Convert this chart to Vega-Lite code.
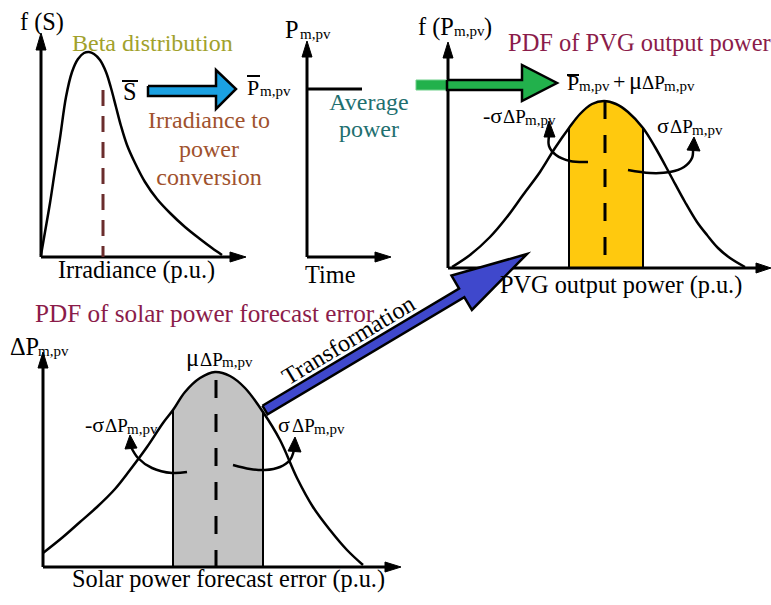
{
  "$schema": "https://vega.github.io/schema/vega-lite/v6.json",
  "width": 771,
  "height": 605,
  "autosize": {"type": "none"},
  "padding": 0,
  "background": "white",
  "config": {"view": {"stroke": null}, "text": {"font": "Liberation Serif"}},
  "datasets": {
    "curves": [
      {"c":"beta","i":0,"x":41,"y":255},{"c":"beta","i":1,"x":45,"y":232},{"c":"beta","i":2,"x":50,"y":203},{"c":"beta","i":3,"x":55,"y":170},{"c":"beta","i":4,"x":60,"y":138},{"c":"beta","i":5,"x":66,"y":97},{"c":"beta","i":6,"x":72,"y":72},{"c":"beta","i":7,"x":78,"y":59},{"c":"beta","i":8,"x":84,"y":53},{"c":"beta","i":9,"x":89,"y":52},{"c":"beta","i":10,"x":94,"y":54},{"c":"beta","i":11,"x":100,"y":60},{"c":"beta","i":12,"x":106,"y":72},{"c":"beta","i":13,"x":111,"y":88},{"c":"beta","i":14,"x":116,"y":107},{"c":"beta","i":15,"x":121,"y":126},{"c":"beta","i":16,"x":127,"y":145},{"c":"beta","i":17,"x":135,"y":163},{"c":"beta","i":18,"x":145,"y":182},{"c":"beta","i":19,"x":157,"y":199},{"c":"beta","i":20,"x":170,"y":213},{"c":"beta","i":21,"x":185,"y":227},{"c":"beta","i":22,"x":200,"y":239},{"c":"beta","i":23,"x":212,"y":248},{"c":"beta","i":24,"x":222,"y":255},
      {"c":"pvg","i":0,"x":452,"y":267},{"c":"pvg","i":1,"x":470,"y":255},{"c":"pvg","i":2,"x":490,"y":237},{"c":"pvg","i":3,"x":507,"y":217},{"c":"pvg","i":4,"x":523,"y":195},{"c":"pvg","i":5,"x":540,"y":172},{"c":"pvg","i":6,"x":555,"y":148},{"c":"pvg","i":7,"x":569,"y":128},{"c":"pvg","i":8,"x":580,"y":114},{"c":"pvg","i":9,"x":592,"y":104},{"c":"pvg","i":10,"x":604,"y":101},{"c":"pvg","i":11,"x":616,"y":104},{"c":"pvg","i":12,"x":628,"y":112},{"c":"pvg","i":13,"x":643,"y":128},{"c":"pvg","i":14,"x":655,"y":147},{"c":"pvg","i":15,"x":665,"y":165},{"c":"pvg","i":16,"x":673,"y":180},{"c":"pvg","i":17,"x":685,"y":202},{"c":"pvg","i":18,"x":697,"y":222},{"c":"pvg","i":19,"x":707,"y":235},{"c":"pvg","i":20,"x":718,"y":248},{"c":"pvg","i":21,"x":730,"y":258},{"c":"pvg","i":22,"x":745,"y":267},
      {"c":"err","i":0,"x":43,"y":553},{"c":"err","i":1,"x":63,"y":537},{"c":"err","i":2,"x":80,"y":522},{"c":"err","i":3,"x":97,"y":507},{"c":"err","i":4,"x":115,"y":489},{"c":"err","i":5,"x":130,"y":470},{"c":"err","i":6,"x":147,"y":447},{"c":"err","i":7,"x":163,"y":423},{"c":"err","i":8,"x":173,"y":410},{"c":"err","i":9,"x":185,"y":392},{"c":"err","i":10,"x":200,"y":378},{"c":"err","i":11,"x":215,"y":372},{"c":"err","i":12,"x":230,"y":376},{"c":"err","i":13,"x":245,"y":388},{"c":"err","i":14,"x":263,"y":412},{"c":"err","i":15,"x":280,"y":440},{"c":"err","i":16,"x":297,"y":478},{"c":"err","i":17,"x":313,"y":507},{"c":"err","i":18,"x":330,"y":530},{"c":"err","i":19,"x":347,"y":550},{"c":"err","i":20,"x":363,"y":565}
    ],
    "bends": [
      {"c":"pl","i":0,"x":588,"y":162},{"c":"pl","i":1,"x":570,"y":161},{"c":"pl","i":2,"x":556,"y":155},{"c":"pl","i":3,"x":549,"y":146},{"c":"pl","i":4,"x":549,"y":136},
      {"c":"pr","i":0,"x":628,"y":170},{"c":"pr","i":1,"x":650,"y":173},{"c":"pr","i":2,"x":670,"y":172},{"c":"pr","i":3,"x":684,"y":167},{"c":"pr","i":4,"x":692,"y":158},{"c":"pr","i":5,"x":693,"y":149},
      {"c":"bl","i":0,"x":187,"y":472},{"c":"bl","i":1,"x":172,"y":473},{"c":"bl","i":2,"x":152,"y":468},{"c":"bl","i":3,"x":138,"y":458},{"c":"bl","i":4,"x":131,"y":447},
      {"c":"br","i":0,"x":233,"y":465},{"c":"br","i":1,"x":250,"y":469},{"c":"br","i":2,"x":265,"y":470},{"c":"br","i":3,"x":280,"y":467},{"c":"br","i":4,"x":290,"y":460},{"c":"br","i":5,"x":294,"y":450}
    ],
    "segs": [
      {"g":"axis","x":41,"y":257,"x2":41,"y2":48},{"g":"axis","x":41,"y":257,"x2":232,"y2":257},
      {"g":"axis","x":307,"y":257,"x2":307,"y2":55},{"g":"axis","x":307,"y":257,"x2":377,"y2":257},{"g":"axis","x":307,"y":89,"x2":362,"y2":89},
      {"g":"axis","x":448,"y":268,"x2":448,"y2":56},{"g":"axis","x":448,"y":268,"x2":759,"y2":268},
      {"g":"axis","x":43,"y":567,"x2":43,"y2":366},{"g":"axis","x":43,"y":567,"x2":387,"y2":567},
      {"g":"bound","x":569,"y":128,"x2":569,"y2":268},{"g":"bound","x":643,"y":128,"x2":643,"y2":268},
      {"g":"bound","x":173,"y":410,"x2":173,"y2":567},{"g":"bound","x":263,"y":412,"x2":263,"y2":567}
    ],
    "dashes": [
      {"g":"beta","x":103,"y":90,"y2":257},
      {"g":"pvg","x":605,"y":101,"y2":268},
      {"g":"err","x":216,"y":380,"y2":567}
    ],
    "bars": [
      {"x":122,"x2":138,"y":81},{"x":247,"x2":260,"y":76},{"x":567,"x2":579,"y":75}
    ],
    "polys": [
      {"g":"sky","id":"a1","i":0,"x":148,"y":86},{"g":"sky","id":"a1","i":1,"x":216,"y":86},{"g":"sky","id":"a1","i":2,"x":216,"y":70},{"g":"sky","id":"a1","i":3,"x":236,"y":89},{"g":"sky","id":"a1","i":4,"x":216,"y":109},{"g":"sky","id":"a1","i":5,"x":216,"y":96},{"g":"sky","id":"a1","i":6,"x":148,"y":96},{"g":"sky","id":"a1","i":7,"x":148,"y":86},
      {"g":"greenbar","id":"gb","i":0,"x":416,"y":80},{"g":"greenbar","id":"gb","i":1,"x":447,"y":80},{"g":"greenbar","id":"gb","i":2,"x":447,"y":90},{"g":"greenbar","id":"gb","i":3,"x":416,"y":90},{"g":"greenbar","id":"gb","i":4,"x":416,"y":80},
      {"g":"green","id":"a2","i":0,"x":447,"y":80},{"g":"green","id":"a2","i":1,"x":522,"y":80},{"g":"green","id":"a2","i":2,"x":522,"y":65},{"g":"green","id":"a2","i":3,"x":557,"y":83},{"g":"green","id":"a2","i":4,"x":522,"y":101},{"g":"green","id":"a2","i":5,"x":522,"y":90},{"g":"green","id":"a2","i":6,"x":447,"y":90},{"g":"green","id":"a2","i":7,"x":447,"y":80},
      {"g":"royal","id":"a3","i":0,"x":262.4,"y":405.7},{"g":"royal","id":"a3","i":1,"x":459.1,"y":288.5},{"g":"royal","id":"a3","i":2,"x":451.5,"y":275.6},{"g":"royal","id":"a3","i":3,"x":527,"y":254},{"g":"royal","id":"a3","i":4,"x":471.9,"y":310},{"g":"royal","id":"a3","i":5,"x":464.3,"y":297.1},{"g":"royal","id":"a3","i":6,"x":267.6,"y":414.3},{"g":"royal","id":"a3","i":7,"x":262.4,"y":405.7},
      {"g":"black","id":"t1","i":0,"x":36,"y":50},{"g":"black","id":"t1","i":1,"x":41,"y":33},{"g":"black","id":"t1","i":2,"x":46,"y":50},{"g":"black","id":"t1","i":3,"x":36,"y":50},
      {"g":"black","id":"t2","i":0,"x":230,"y":252},{"g":"black","id":"t2","i":1,"x":246,"y":257},{"g":"black","id":"t2","i":2,"x":230,"y":262},{"g":"black","id":"t2","i":3,"x":230,"y":252},
      {"g":"black","id":"t3","i":0,"x":302,"y":57},{"g":"black","id":"t3","i":1,"x":307,"y":41},{"g":"black","id":"t3","i":2,"x":312,"y":57},{"g":"black","id":"t3","i":3,"x":302,"y":57},
      {"g":"black","id":"t4","i":0,"x":375,"y":252},{"g":"black","id":"t4","i":1,"x":391,"y":257},{"g":"black","id":"t4","i":2,"x":375,"y":262},{"g":"black","id":"t4","i":3,"x":375,"y":252},
      {"g":"black","id":"t5","i":0,"x":443,"y":58},{"g":"black","id":"t5","i":1,"x":448,"y":42},{"g":"black","id":"t5","i":2,"x":453,"y":58},{"g":"black","id":"t5","i":3,"x":443,"y":58},
      {"g":"black","id":"t6","i":0,"x":756,"y":263},{"g":"black","id":"t6","i":1,"x":771,"y":268},{"g":"black","id":"t6","i":2,"x":756,"y":273},{"g":"black","id":"t6","i":3,"x":756,"y":263},
      {"g":"black","id":"t7","i":0,"x":38,"y":368},{"g":"black","id":"t7","i":1,"x":43,"y":352},{"g":"black","id":"t7","i":2,"x":48,"y":368},{"g":"black","id":"t7","i":3,"x":38,"y":368},
      {"g":"black","id":"t8","i":0,"x":385,"y":562},{"g":"black","id":"t8","i":1,"x":401,"y":567},{"g":"black","id":"t8","i":2,"x":385,"y":572},{"g":"black","id":"t8","i":3,"x":385,"y":562},
      {"g":"black","id":"t9","i":0,"x":544,"y":137},{"g":"black","id":"t9","i":1,"x":549,"y":121},{"g":"black","id":"t9","i":2,"x":555,"y":137},{"g":"black","id":"t9","i":3,"x":544,"y":137},
      {"g":"black","id":"t10","i":0,"x":687,"y":150},{"g":"black","id":"t10","i":1,"x":694,"y":137},{"g":"black","id":"t10","i":2,"x":700,"y":151},{"g":"black","id":"t10","i":3,"x":687,"y":150},
      {"g":"black","id":"t11","i":0,"x":125,"y":449},{"g":"black","id":"t11","i":1,"x":130,"y":435},{"g":"black","id":"t11","i":2,"x":137,"y":448},{"g":"black","id":"t11","i":3,"x":125,"y":449},
      {"g":"black","id":"t12","i":0,"x":288,"y":451},{"g":"black","id":"t12","i":1,"x":295,"y":437},{"g":"black","id":"t12","i":2,"x":301,"y":452},{"g":"black","id":"t12","i":3,"x":288,"y":451}
    ],
    "texts": [
      {"t":"f (S)","x":20,"y":30,"k":"L"},
      {"t":"Beta distribution","x":72,"y":51,"k":"olive"},
      {"t":"S","x":123,"y":100,"k":"L"},
      {"t":"P","x":247,"y":95,"k":"M"},
      {"t":"m,pv","x":260,"y":96,"k":"s"},
      {"t":"Irradiance (p.u.)","x":58,"y":278,"k":"L"},
      {"t":"P","x":285,"y":38,"k":"L"},
      {"t":"m,pv","x":300,"y":39,"k":"s"},
      {"t":"Time","x":305,"y":283,"k":"L"},
      {"t":"f (P","x":418,"y":35,"k":"L"},
      {"t":"m,pv","x":454,"y":36,"k":"s"},
      {"t":")","x":484,"y":35,"k":"L"},
      {"t":"PDF of PVG output power","x":508,"y":51,"k":"maroonT"},
      {"t":"P","x":567,"y":90,"k":"M"},
      {"t":"m,pv","x":579,"y":91,"k":"s"},
      {"t":"+","x":613,"y":89,"k":"M"},
      {"t":"μ","x":629,"y":89,"k":"L"},
      {"t":"ΔP","x":642,"y":89,"k":"S"},
      {"t":"m,pv","x":664,"y":91,"k":"s"},
      {"t":"-σ","x":483,"y":123,"k":"M"},
      {"t":"ΔP","x":503,"y":123,"k":"S"},
      {"t":"m,pv","x":525,"y":125,"k":"s"},
      {"t":"σ","x":657,"y":133,"k":"M"},
      {"t":"ΔP","x":670,"y":133,"k":"S"},
      {"t":"m,pv","x":692,"y":135,"k":"s"},
      {"t":"PVG output power (p.u.)","x":500,"y":293,"k":"L"},
      {"t":"PDF of solar power forecast error","x":35,"y":322,"k":"maroon"},
      {"t":"ΔP","x":10,"y":355,"k":"L"},
      {"t":"m,pv","x":38,"y":356,"k":"s"},
      {"t":"μ","x":186,"y":366,"k":"L"},
      {"t":"ΔP","x":200,"y":366,"k":"S"},
      {"t":"m,pv","x":222,"y":367,"k":"s"},
      {"t":"-σ","x":85,"y":432,"k":"M"},
      {"t":"ΔP","x":105,"y":432,"k":"S"},
      {"t":"m,pv","x":127,"y":434,"k":"s"},
      {"t":"σ","x":278,"y":432,"k":"M"},
      {"t":"ΔP","x":292,"y":432,"k":"S"},
      {"t":"m,pv","x":314,"y":434,"k":"s"},
      {"t":"Solar power forecast error (p.u.)","x":72,"y":587,"k":"L"}
    ],
    "ctexts": [
      {"t":"Irradiance to","x":209,"y":128,"k":"brown"},
      {"t":"power","x":209,"y":157,"k":"brown"},
      {"t":"conversion","x":209,"y":185,"k":"brown"},
      {"t":"Average","x":369,"y":110,"k":"teal"},
      {"t":"power","x":369,"y":137,"k":"teal"}
    ],
    "rtexts": [
      {"t":"Transformation","x":349,"y":341,"k":"L"}
    ]
  },
  "layer": [
    {
      "data": {"name": "curves"},
      "transform": [{"filter": "datum.c === 'err' && datum.x >= 173 && datum.x <= 263"}],
      "mark": {"type": "area", "fill": "#C3C3C3", "interpolate": "catmull-rom"},
      "encoding": {
        "x": {"field": "x", "type": "quantitative", "scale": {"domain": [0, 771], "nice": false, "zero": false}, "axis": null},
        "y": {"field": "y", "type": "quantitative", "scale": {"domain": [0, 605], "nice": false, "zero": false, "reverse": true}, "axis": null},
        "y2": {"datum": 567}
      }
    },
    {
      "data": {"name": "curves"},
      "transform": [{"filter": "datum.c === 'pvg' && datum.x >= 569 && datum.x <= 643"}],
      "mark": {"type": "area", "fill": "#FFC90E", "interpolate": "catmull-rom"},
      "encoding": {
        "x": {"field": "x", "type": "quantitative", "scale": {"domain": [0, 771], "nice": false, "zero": false}, "axis": null},
        "y": {"field": "y", "type": "quantitative", "scale": {"domain": [0, 605], "nice": false, "zero": false, "reverse": true}, "axis": null},
        "y2": {"datum": 268}
      }
    },
    {
      "data": {"name": "curves"},
      "mark": {"type": "line", "stroke": "black", "strokeWidth": 2.5, "interpolate": "catmull-rom"},
      "encoding": {
        "x": {"field": "x", "type": "quantitative", "scale": {"domain": [0, 771], "nice": false, "zero": false}, "axis": null},
        "y": {"field": "y", "type": "quantitative", "scale": {"domain": [0, 605], "nice": false, "zero": false, "reverse": true}, "axis": null},
        "detail": {"field": "c"},
        "order": {"field": "i", "type": "quantitative"}
      }
    },
    {
      "data": {"name": "bends"},
      "mark": {"type": "line", "stroke": "black", "strokeWidth": 2.5, "interpolate": "catmull-rom"},
      "encoding": {
        "x": {"field": "x", "type": "quantitative", "scale": {"domain": [0, 771], "nice": false, "zero": false}, "axis": null},
        "y": {"field": "y", "type": "quantitative", "scale": {"domain": [0, 605], "nice": false, "zero": false, "reverse": true}, "axis": null},
        "detail": {"field": "c"},
        "order": {"field": "i", "type": "quantitative"}
      }
    },
    {
      "data": {"name": "segs"},
      "transform": [{"filter": "datum.g === 'axis'"}],
      "mark": {"type": "rule", "stroke": "black", "strokeWidth": 3},
      "encoding": {
        "x": {"field": "x", "type": "quantitative", "scale": {"domain": [0, 771], "nice": false, "zero": false}, "axis": null},
        "y": {"field": "y", "type": "quantitative", "scale": {"domain": [0, 605], "nice": false, "zero": false, "reverse": true}, "axis": null},
        "x2": {"field": "x2"},
        "y2": {"field": "y2"}
      }
    },
    {
      "data": {"name": "segs"},
      "transform": [{"filter": "datum.g === 'bound'"}],
      "mark": {"type": "rule", "stroke": "black", "strokeWidth": 2},
      "encoding": {
        "x": {"field": "x", "type": "quantitative", "scale": {"domain": [0, 771], "nice": false, "zero": false}, "axis": null},
        "y": {"field": "y", "type": "quantitative", "scale": {"domain": [0, 605], "nice": false, "zero": false, "reverse": true}, "axis": null},
        "x2": {"field": "x2"},
        "y2": {"field": "y2"}
      }
    },
    {
      "data": {"name": "dashes"},
      "transform": [{"filter": "datum.g === 'beta'"}],
      "mark": {"type": "rule", "stroke": "#6B2D2D", "strokeWidth": 3, "strokeDash": [16, 10]},
      "encoding": {
        "x": {"field": "x", "type": "quantitative", "scale": {"domain": [0, 771], "nice": false, "zero": false}, "axis": null},
        "y": {"field": "y", "type": "quantitative", "scale": {"domain": [0, 605], "nice": false, "zero": false, "reverse": true}, "axis": null},
        "y2": {"field": "y2"}
      }
    },
    {
      "data": {"name": "dashes"},
      "transform": [{"filter": "datum.g !== 'beta'"}],
      "mark": {"type": "rule", "stroke": "black", "strokeWidth": 3, "strokeDash": [18, 16]},
      "encoding": {
        "x": {"field": "x", "type": "quantitative", "scale": {"domain": [0, 771], "nice": false, "zero": false}, "axis": null},
        "y": {"field": "y", "type": "quantitative", "scale": {"domain": [0, 605], "nice": false, "zero": false, "reverse": true}, "axis": null},
        "y2": {"field": "y2"}
      }
    },
    {
      "data": {"name": "polys"},
      "transform": [{"filter": "datum.g === 'greenbar'"}],
      "mark": {"type": "line", "fill": "#22B14C", "stroke": "#6FCF8A", "strokeWidth": 1},
      "encoding": {
        "x": {"field": "x", "type": "quantitative", "scale": {"domain": [0, 771], "nice": false, "zero": false}, "axis": null},
        "y": {"field": "y", "type": "quantitative", "scale": {"domain": [0, 605], "nice": false, "zero": false, "reverse": true}, "axis": null},
        "detail": {"field": "id"},
        "order": {"field": "i", "type": "quantitative"}
      }
    },
    {
      "data": {"name": "polys"},
      "transform": [{"filter": "datum.g === 'sky'"}],
      "mark": {"type": "line", "fill": "#1BA1E2", "stroke": "black", "strokeWidth": 2.5, "strokeJoin": "miter"},
      "encoding": {
        "x": {"field": "x", "type": "quantitative", "scale": {"domain": [0, 771], "nice": false, "zero": false}, "axis": null},
        "y": {"field": "y", "type": "quantitative", "scale": {"domain": [0, 605], "nice": false, "zero": false, "reverse": true}, "axis": null},
        "detail": {"field": "id"},
        "order": {"field": "i", "type": "quantitative"}
      }
    },
    {
      "data": {"name": "polys"},
      "transform": [{"filter": "datum.g === 'green'"}],
      "mark": {"type": "line", "fill": "#22B14C", "stroke": "black", "strokeWidth": 2.5, "strokeJoin": "miter"},
      "encoding": {
        "x": {"field": "x", "type": "quantitative", "scale": {"domain": [0, 771], "nice": false, "zero": false}, "axis": null},
        "y": {"field": "y", "type": "quantitative", "scale": {"domain": [0, 605], "nice": false, "zero": false, "reverse": true}, "axis": null},
        "detail": {"field": "id"},
        "order": {"field": "i", "type": "quantitative"}
      }
    },
    {
      "data": {"name": "polys"},
      "transform": [{"filter": "datum.g === 'royal'"}],
      "mark": {"type": "line", "fill": "#3F48CC", "stroke": "black", "strokeWidth": 2.5, "strokeJoin": "miter"},
      "encoding": {
        "x": {"field": "x", "type": "quantitative", "scale": {"domain": [0, 771], "nice": false, "zero": false}, "axis": null},
        "y": {"field": "y", "type": "quantitative", "scale": {"domain": [0, 605], "nice": false, "zero": false, "reverse": true}, "axis": null},
        "detail": {"field": "id"},
        "order": {"field": "i", "type": "quantitative"}
      }
    },
    {
      "data": {"name": "polys"},
      "transform": [{"filter": "datum.g === 'black'"}],
      "mark": {"type": "line", "fill": "black", "stroke": "black", "strokeWidth": 1},
      "encoding": {
        "x": {"field": "x", "type": "quantitative", "scale": {"domain": [0, 771], "nice": false, "zero": false}, "axis": null},
        "y": {"field": "y", "type": "quantitative", "scale": {"domain": [0, 605], "nice": false, "zero": false, "reverse": true}, "axis": null},
        "detail": {"field": "id"},
        "order": {"field": "i", "type": "quantitative"}
      }
    },
    {
      "data": {"name": "bars"},
      "mark": {"type": "rule", "stroke": "black", "strokeWidth": 2},
      "encoding": {
        "x": {"field": "x", "type": "quantitative", "scale": {"domain": [0, 771], "nice": false, "zero": false}, "axis": null},
        "y": {"field": "y", "type": "quantitative", "scale": {"domain": [0, 605], "nice": false, "zero": false, "reverse": true}, "axis": null},
        "x2": {"field": "x2"}
      }
    },
    {
      "data": {"name": "texts"},
      "mark": {"type": "text", "align": "left", "baseline": "alphabetic", "font": "Liberation Serif"},
      "encoding": {
        "x": {"field": "x", "type": "quantitative", "scale": {"domain": [0, 771], "nice": false, "zero": false}, "axis": null},
        "y": {"field": "y", "type": "quantitative", "scale": {"domain": [0, 605], "nice": false, "zero": false, "reverse": true}, "axis": null},
        "text": {"field": "t"},
        "color": {"field": "k", "type": "nominal", "legend": null, "scale": {"type": "ordinal", "domain": ["L","M","S","s","olive","maroon","maroonT","brown","teal"], "range": ["#000000","#000000","#000000","#000000","#A1A12B","#8B1C4A","#8B1C4A","#A0522D","#1F7070"]}},
        "size": {"field": "k", "type": "nominal", "legend": null, "scale": {"type": "ordinal", "domain": ["L","M","S","s","olive","maroon","maroonT","brown","teal"], "range": [24.3,22,19,15,24,25.2,24.5,24,24]}}
      }
    },
    {
      "data": {"name": "ctexts"},
      "mark": {"type": "text", "align": "center", "baseline": "alphabetic", "font": "Liberation Serif"},
      "encoding": {
        "x": {"field": "x", "type": "quantitative", "scale": {"domain": [0, 771], "nice": false, "zero": false}, "axis": null},
        "y": {"field": "y", "type": "quantitative", "scale": {"domain": [0, 605], "nice": false, "zero": false, "reverse": true}, "axis": null},
        "text": {"field": "t"},
        "color": {"field": "k", "type": "nominal", "legend": null, "scale": {"type": "ordinal", "domain": ["L","M","S","s","olive","maroon","maroonT","brown","teal"], "range": ["#000000","#000000","#000000","#000000","#A1A12B","#8B1C4A","#8B1C4A","#A0522D","#1F7070"]}},
        "size": {"field": "k", "type": "nominal", "legend": null, "scale": {"type": "ordinal", "domain": ["L","M","S","s","olive","maroon","maroonT","brown","teal"], "range": [24.3,22,19,15,24,25.2,24.5,24,24]}}
      }
    },
    {
      "data": {"name": "rtexts"},
      "mark": {"type": "text", "align": "center", "baseline": "middle", "angle": -31, "font": "Liberation Serif"},
      "encoding": {
        "x": {"field": "x", "type": "quantitative", "scale": {"domain": [0, 771], "nice": false, "zero": false}, "axis": null},
        "y": {"field": "y", "type": "quantitative", "scale": {"domain": [0, 605], "nice": false, "zero": false, "reverse": true}, "axis": null},
        "text": {"field": "t"},
        "color": {"field": "k", "type": "nominal", "legend": null, "scale": {"type": "ordinal", "domain": ["L","M","S","s","olive","maroon","maroonT","brown","teal"], "range": ["#000000","#000000","#000000","#000000","#A1A12B","#8B1C4A","#8B1C4A","#A0522D","#1F7070"]}},
        "size": {"field": "k", "type": "nominal", "legend": null, "scale": {"type": "ordinal", "domain": ["L","M","S","s","olive","maroon","maroonT","brown","teal"], "range": [24.3,22,19,15,24,25.2,24.5,24,24]}}
      }
    }
  ]
}
